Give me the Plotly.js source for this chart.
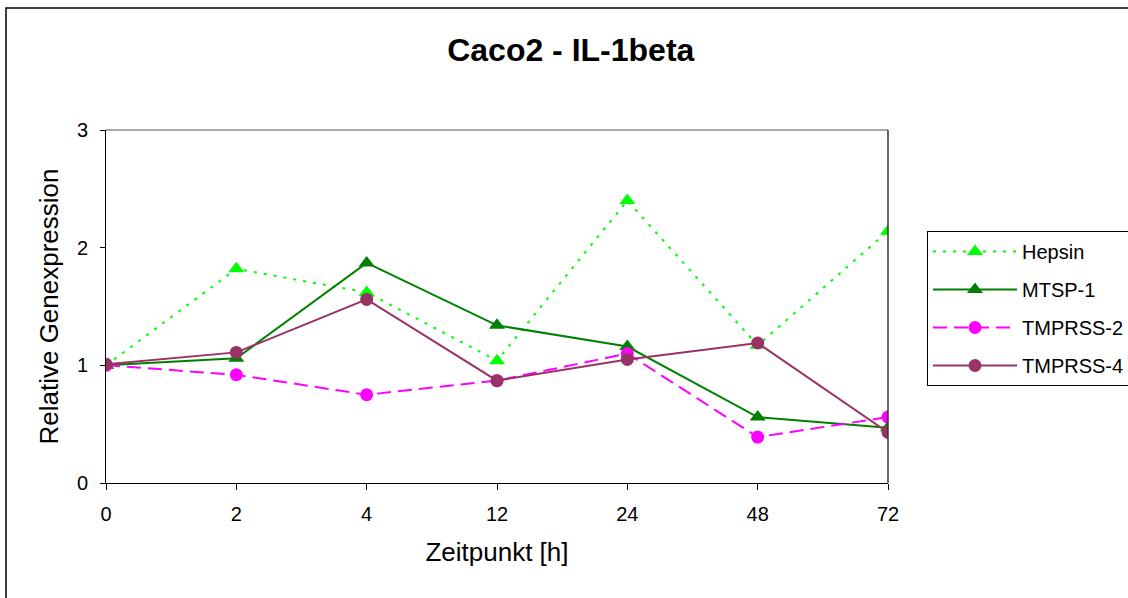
<!DOCTYPE html>
<html>
<head>
<meta charset="utf-8">
<script src="https://cdn.plot.ly/plotly-3.0.1.min.js"></script>
<style>
  html, body { margin: 0; padding: 0; background: #ffffff; }
  #chart { width: 1128px; height: 598px; }
</style>
</head>
<body>
<div id="chart"></div>
<script>
// Time points (hours) shown as categories on the x axis
const zeitpunkte = ["0", "2", "4", "12", "24", "48", "72"];

// Relative gene expression per protease after IL-1beta stimulation
const hepsin   = [1.00, 1.82, 1.62, 1.04, 2.40, 1.17, 2.14];
const mtsp1    = [1.00, 1.06, 1.87, 1.34, 1.16, 0.56, 0.47];
const tmprss2  = [1.00, 0.92, 0.75, 0.87, 1.10, 0.39, 0.56];
const tmprss4  = [1.01, 1.11, 1.56, 0.87, 1.05, 1.19, 0.43];

const seriesNames = ["Hepsin", "MTSP-1", "TMPRSS-2", "TMPRSS-4"];

const FONT = "Liberation Sans, Arial, Helvetica, sans-serif";

function serie(name, y, color, dash, symbol, size) {
  return {
    x: zeitpunkte,
    y: y,
    name: name,
    legendgroup: name,
    type: "scatter",
    mode: "lines+markers",
    line: { color: color, width: 2, dash: dash },
    marker: { color: color, symbol: symbol, size: size, line: { width: 0 } },
    hoverinfo: "x+y+name"
  };
}

const traces = [
  serie(seriesNames[0], hepsin,  "#00ff00", "3px,7px",  "triangle-up", 14),
  serie(seriesNames[1], mtsp1,   "#008000", "solid",    "triangle-up", 14),
  serie(seriesNames[2], tmprss2, "#ff00ff", "14px,7px", "circle",      13),
  serie(seriesNames[3], tmprss4, "#993366", "solid",    "circle",      13)
];

// plot area: x 106..888, y 130..483 in a 1128x598 page
const L = 106, R = 888, T = 130, B = 483, W = 1128, H = 598;
const px = v => (v - L) / (R - L);
const py = v => (B - v) / (B - T);

const layout = {
  width: W,
  height: H,
  margin: { l: L, r: W - R, t: T, b: H - B, pad: 0, autoexpand: false },
  paper_bgcolor: "#ffffff",
  plot_bgcolor: "#ffffff",
  font: { family: FONT, color: "#000000", size: 20 },
  title: {
    text: "<b>Caco2 - IL-1beta</b>",
    font: { family: FONT, size: 32, color: "#000000" },
    x: 0.506, xref: "container", xanchor: "center",
    y: 1 - 50 / H, yref: "container", yanchor: "middle"
  },
  xaxis: {
    type: "category",
    range: [0, 6],
    showgrid: false,
    zeroline: false,
    showline: true,
    linecolor: "#000000",
    linewidth: 1,
    ticks: "outside",
    ticklen: 6,
    tickcolor: "#000000",
    tickfont: { family: FONT, size: 20, color: "#000000" },
    ticklabelstandoff: 7,
    title: { text: "Zeitpunkt [h]", font: { family: FONT, size: 26, color: "#000000" }, standoff: 18 },
    fixedrange: true
  },
  yaxis: {
    range: [0, 3],
    dtick: 1,
    tick0: 0,
    showgrid: false,
    zeroline: false,
    showline: true,
    linecolor: "#000000",
    linewidth: 1,
    ticks: "outside",
    ticklen: 5,
    tickcolor: "#000000",
    tickfont: { family: FONT, size: 20, color: "#000000" },
    ticklabelstandoff: 8,
    title: { text: "Relative Genexpression", font: { family: FONT, size: 26, color: "#000000" }, standoff: 10 },
    fixedrange: true
  },
  showlegend: true,
  legend: {
    x: px(927), xanchor: "left",
    y: py(231), yanchor: "top",
    bgcolor: "#ffffff",
    bordercolor: "#000000",
    borderwidth: 1,
    font: { family: FONT, size: 20, color: "#000000" },
    traceorder: "grouped",
    tracegroupgap: 9,
    itemwidth: 84
  },
  shapes: [
    // outer chart frame
    { type: "rect", xref: "paper", yref: "paper",
      x0: px(6), x1: px(1200), y0: py(640), y1: py(8),
      line: { color: "#000000", width: 1.5 }, fillcolor: "rgba(0,0,0,0)", layer: "below" },
    // top edge of plot area
    { type: "line", xref: "paper", yref: "paper", x0: 0, x1: 1, y0: 1, y1: 1,
      line: { color: "#8c8c8c", width: 1.5 } },
    // right edge of plot area
    { type: "line", xref: "paper", yref: "paper", x0: 1, x1: 1, y0: 0, y1: 1,
      line: { color: "#333333", width: 1.5 } }
  ]
};

Plotly.newPlot("chart", traces, layout, { displayModeBar: false, staticPlot: true });
</script>
</body>
</html>
